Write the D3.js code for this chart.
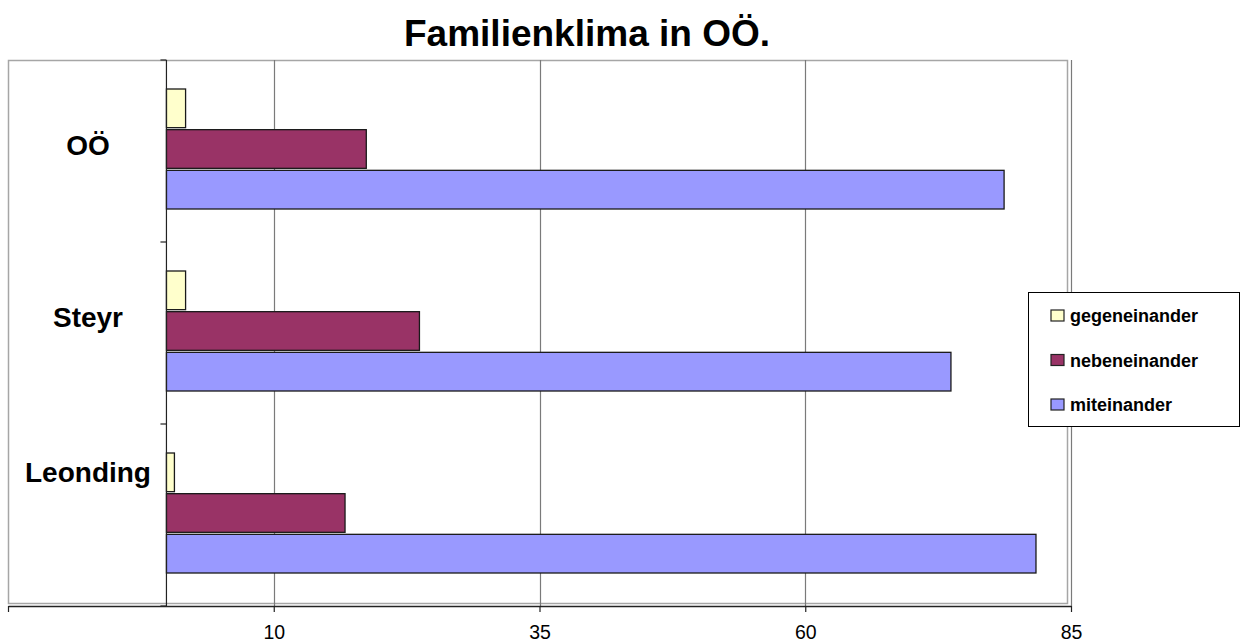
<!DOCTYPE html>
<html>
<head>
<meta charset="utf-8">
<script src="https://cdn.jsdelivr.net/npm/d3@7/dist/d3.min.js"></script>
<style>
  html, body { margin: 0; padding: 0; background: #fff; }
  svg { display: block; font-family: Arial, "Liberation Sans", sans-serif; }
</style>
</head>
<body>
<svg id="chart" width="1243" height="644"></svg>
<script>
// ---- data ----
const categories = ["OÖ", "Steyr", "Leonding"];
const seriesNames = ["gegeneinander", "nebeneinander", "miteinander"];
const gegeneinander = [1.8, 1.8, 0.75];
const nebeneinander = [18.8, 23.8, 16.8];
const miteinander = [78.8, 73.8, 81.8];
const tickValues = [-15, 10, 35, 60, 85];
const tickLabels = ["", "10", "35", "60", "85"];
const title = "Familienklima in OÖ.";

const seriesValues = [gegeneinander, nebeneinander, miteinander];
const colors = ["#FFFFCC", "#993366", "#9999FF"];

// ---- layout ----
const svg = d3.select("#chart");
const plot = { left: 8, right: 1071, top: 60, bottom: 606 };

const x = d3.scaleLinear().domain([-15, 85]).range([plot.left, plot.right]);
const y = d3.scaleBand().domain(categories).range([plot.top, plot.bottom]).padding(0);
const inner = d3.scaleBand().domain(seriesNames)
  .range([29, 29 + 122]).padding(0);

// title
svg.append("text")
  .attr("x", 587).attr("y", 46)
  .attr("text-anchor", "middle")
  .attr("font-size", 37).attr("font-weight", "bold")
  .text(title);

// plot area border
svg.append("rect")
  .attr("x", plot.left + 0.5).attr("y", plot.top + 0.5)
  .attr("width", 1067 - plot.left).attr("height", 603 - plot.top)
  .attr("fill", "none").attr("stroke", "#a6a6a6").attr("stroke-width", 1.5);

// gridlines
svg.append("g").selectAll("line")
  .data(tickValues.filter(v => v > 0))
  .join("line")
  .attr("x1", d => Math.round(x(d)) + 0.5).attr("x2", d => Math.round(x(d)) + 0.5)
  .attr("y1", plot.top).attr("y2", plot.bottom)
  .attr("stroke", "#7a7a7a").attr("stroke-width", 1.2);

// bars
const groups = svg.append("g").selectAll("g")
  .data(categories)
  .join("g")
  .attr("transform", d => `translate(0,${y(d)})`);

groups.selectAll("rect")
  .data((c, i) => seriesNames.map((s, j) => ({ s, j, v: seriesValues[j][i] })))
  .join("rect")
  .attr("x", x(0) - 1)
  .attr("y", d => inner(d.s))
  .attr("width", d => x(d.v) - x(0))
  .attr("height", inner.bandwidth() - 2)
  .attr("fill", (d) => colors[d.j])
  .attr("stroke", "#1a1a1a").attr("stroke-width", 1.3);

// category axis (at value 0)
const yAxisX = x(0) - 1;
svg.append("line")
  .attr("x1", yAxisX).attr("x2", yAxisX)
  .attr("y1", plot.top).attr("y2", plot.bottom)
  .attr("stroke", "#222").attr("stroke-width", 1.2);
svg.append("g").selectAll("line")
  .data(d3.range(categories.length + 1))
  .join("line")
  .attr("x1", yAxisX - 6).attr("x2", yAxisX)
  .attr("y1", i => plot.top + i * y.step()).attr("y2", i => plot.top + i * y.step())
  .attr("stroke", "#222").attr("stroke-width", 1.2);

// category labels
const labelNudge = [4, -6, -33];
svg.append("g").selectAll("text")
  .data(categories)
  .join("text")
  .attr("x", 88)
  .attr("y", (d, i) => y(d) + y.bandwidth() / 2 + labelNudge[i])
  .attr("text-anchor", "middle")
  .attr("font-size", 28).attr("font-weight", "bold")
  .text(d => d);

// value axis
const xAxis = d3.axisBottom(x)
  .tickValues(tickValues)
  .tickFormat((d, i) => tickLabels[i])
  .tickSize(6).tickSizeOuter(0).tickPadding(13);
const gx = svg.append("g")
  .attr("transform", `translate(0,${plot.bottom})`)
  .call(xAxis);
gx.select(".domain").attr("stroke", "#222").attr("stroke-width", 1.3);
gx.selectAll(".tick line").attr("stroke", "#222").attr("stroke-width", 1.2);
gx.selectAll(".tick text")
  .attr("font-size", 19.5).attr("fill", "#000")
  .attr("font-family", "Arial, 'Liberation Sans', sans-serif");

// legend
const legend = svg.append("g").attr("transform", "translate(1028,292)");
legend.append("rect")
  .attr("x", 0.5).attr("y", 0.5).attr("width", 211).attr("height", 134)
  .attr("fill", "#fff").attr("stroke", "#000").attr("stroke-width", 1);
const items = legend.selectAll("g.item")
  .data(seriesNames)
  .join("g")
  .attr("class", "item")
  .attr("transform", (d, i) => `translate(0,${23 + i * 44.5})`);
items.append("rect")
  .attr("x", 23).attr("y", -5).attr("width", 13).attr("height", 11)
  .attr("fill", (d, i) => colors[i]).attr("stroke", "#222").attr("stroke-width", 1.2);
items.append("text")
  .attr("x", 42).attr("y", 7)
  .attr("font-size", 18).attr("font-weight", "bold")
  .text(d => d);
</script>
</body>
</html>
